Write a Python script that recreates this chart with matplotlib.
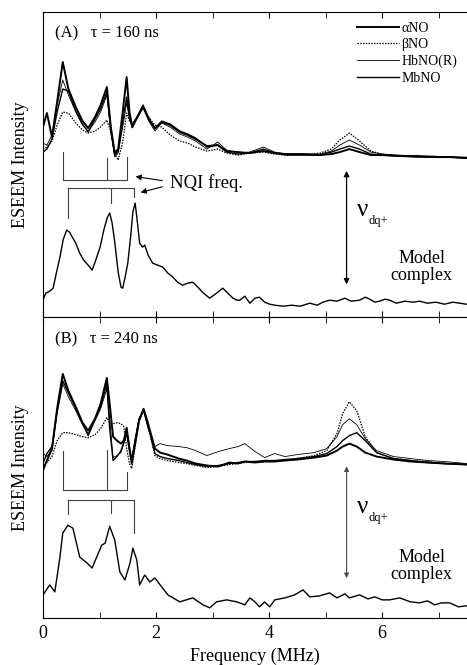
import matplotlib.pyplot as plt

plt.rcParams['font.family'] = 'Liberation Serif'

# ---- panel A (tau = 160 ns) ----
freq_a = [0, 0.07, 0.16, 0.25, 0.35, 0.45, 0.58, 0.70, 0.80, 0.92, 1.02, 1.13, 1.20, 1.27,
          1.33, 1.41, 1.48, 1.53, 1.58, 1.67, 1.77, 1.87, 1.98, 2.10, 2.25, 2.42, 2.56, 2.70,
          2.90, 3.09, 3.25, 3.45, 3.65, 3.90, 4.10, 4.30, 4.60, 4.90, 5.10, 5.25, 5.42, 5.60,
          5.80, 6.00, 6.30, 6.60, 6.90, 7.20, 7.49]
alpha_a = [190, 204, 180, 215, 255, 228, 210, 196, 189, 200, 212, 230, 190, 164,
           168, 205, 240, 205, 190, 200, 210, 198, 189, 195, 192, 185, 182, 178,
           171, 172, 166, 165, 164, 166, 164, 163, 163, 162, 163, 165, 168, 165,
           162, 162, 161, 161, 160, 160, 159]
beta_a = [168, 170, 176, 192, 205, 204, 194, 187, 184, 186, 190, 197, 185, 165,
          157, 175, 204, 196, 194, 200, 209, 200, 192, 190, 182, 176, 174, 170,
          166, 168, 164, 162, 164, 165, 163, 162, 162, 164, 168, 177, 184, 176,
          166, 163, 161, 161, 160, 160, 159]
hb_a = [174, 172, 182, 212, 237, 222, 205, 192, 186, 195, 205, 222, 185, 160,
        164, 190, 214, 198, 189, 200, 211, 196, 186, 194, 190, 183, 180, 176,
        168, 175, 167, 164, 165, 170, 165, 163, 163, 163, 166, 172, 177, 172,
        165, 163, 162, 161, 161, 160, 160]
mb_a = [165, 168, 178, 205, 228, 226, 206, 193, 185, 198, 208, 225, 188, 162,
        166, 195, 220, 200, 191, 201, 212, 199, 188, 196, 193, 186, 183, 179,
        170, 172, 165, 163, 164, 168, 164, 162, 162, 162, 165, 168, 171, 168,
        163, 162, 161, 160, 160, 160, 159]

model_freq_a = [0.00, 0.05, 0.12, 0.18, 0.24, 0.30, 0.36, 0.42, 0.47, 0.52, 0.58, 0.65, 0.72,
                0.80, 0.87, 0.94, 1.01, 1.08, 1.14, 1.18, 1.22, 1.27, 1.33, 1.38, 1.41, 1.46,
                1.50, 1.55, 1.59, 1.63, 1.66, 1.71, 1.76, 1.80, 1.86, 1.94, 2.03, 2.12, 2.21,
                2.30, 2.38, 2.47, 2.56, 2.65, 2.74, 2.84, 2.95, 3.07, 3.18, 3.27, 3.36, 3.43,
                3.48, 3.57, 3.66, 3.75, 3.83, 3.92, 4.01, 4.10, 4.25, 4.40, 4.55, 4.72, 4.85,
                4.95, 5.07, 5.20, 5.34, 5.45, 5.60, 5.70, 5.78, 5.87, 5.95, 6.05, 6.13, 6.25,
                6.40, 6.55, 6.66, 6.80, 6.95, 7.10, 7.25, 7.37, 7.49]
model_a = [17, 24, 26, 29, 45, 60, 78, 87, 85, 80, 74, 64, 57,
           52, 47, 58, 70, 88, 100, 104, 95, 75, 45, 30, 29, 42,
           54, 80, 105, 114, 100, 74, 70, 72, 62, 54, 52, 50, 44,
           40, 35, 32, 34, 35, 30, 24, 19, 24, 29, 24, 19, 17,
           17, 21, 14, 19, 20, 15, 13, 12, 11, 12, 11, 14, 12,
           15, 17, 16, 19, 16, 17, 20, 18, 15, 16, 18, 17, 14,
           16, 15, 16, 14, 15, 13, 15, 14, 13]

# ---- panel B (tau = 240 ns) ----
freq_b = [0, 0.07, 0.16, 0.25, 0.35, 0.45, 0.58, 0.70, 0.80, 0.92, 1.02, 1.13, 1.18, 1.24,
          1.31, 1.38, 1.43, 1.48, 1.53, 1.57, 1.63, 1.70, 1.78, 1.86, 1.98, 2.07, 2.20, 2.40,
          2.54, 2.70, 2.90, 3.10, 3.30, 3.45, 3.57, 3.75, 3.92, 4.10, 4.28, 4.50, 4.80, 5.02,
          5.20, 5.30, 5.42, 5.55, 5.70, 5.90, 6.20, 6.50, 6.80, 7.10, 7.49]
alpha_b = [148, 158, 170, 210, 245, 228, 212, 196, 188, 200, 215, 241, 215, 182,
           178, 175, 178, 191, 170, 155, 175, 198, 210, 195, 170, 166, 164, 160,
           158, 155, 153, 152, 156, 155, 157, 156, 157, 157, 158, 159, 161, 163,
           168, 172, 175, 172, 166, 162, 159, 157, 156, 155, 154]
beta_b = [151, 156, 162, 178, 186, 186, 184, 182, 181, 184, 190, 201, 196, 195,
          196, 195, 192, 170, 155, 150, 172, 198, 208, 192, 163, 160, 158, 156,
          155, 153, 151, 152, 154, 155, 156, 157, 157, 158, 158, 160, 163, 168,
          185, 205, 217, 208, 182, 166, 160, 158, 157, 155, 154]
hb_b = [165, 162, 168, 205, 235, 222, 208, 194, 185, 198, 210, 230, 200, 161,
        163, 166, 175, 190, 172, 160, 180, 200, 208, 190, 172, 175, 173, 172,
        171, 168, 163, 167, 170, 172, 175, 167, 161, 165, 162, 164, 166, 170,
        182, 194, 200, 194, 180, 168, 162, 160, 158, 157, 155]
mb_b = [155, 165, 172, 208, 238, 226, 210, 195, 183, 199, 212, 235, 190, 158,
        162, 168, 176, 185, 168, 158, 178, 200, 209, 193, 165, 162, 160, 158,
        156, 154, 152, 153, 155, 156, 157, 157, 158, 158, 159, 160, 162, 165,
        172, 178, 183, 186, 178, 166, 160, 158, 156, 155, 154]

model_freq_b = [0.00, 0.12, 0.21, 0.30, 0.35, 0.44, 0.53, 0.65, 0.78, 0.87, 0.95, 1.04, 1.10,
                1.18, 1.27, 1.36, 1.45, 1.54, 1.59, 1.66, 1.71, 1.80, 1.89, 1.98, 2.10, 2.21,
                2.42, 2.65, 2.83, 2.95, 3.07, 3.25, 3.43, 3.57, 3.66, 3.75, 3.83, 3.92, 4.01,
                4.10, 4.28, 4.45, 4.60, 4.72, 4.89, 5.07, 5.20, 5.34, 5.42, 5.60, 5.75, 5.87,
                6.00, 6.13, 6.31, 6.50, 6.66, 6.80, 6.93, 7.05, 7.19, 7.35, 7.49]
model_b = [23, 33, 26, 61, 85, 93, 90, 61, 55, 50, 61, 73, 75,
           92, 78, 46, 38, 55, 70, 58, 33, 43, 36, 40, 31, 23,
           16, 20, 13, 10, 16, 18, 16, 13, 20, 16, 11, 16, 11,
           18, 20, 23, 28, 21, 22, 25, 20, 24, 20, 23, 19, 21,
           18, 18, 20, 16, 15, 17, 13, 15, 15, 11, 12]

labels = ['\u03b1NO', '\u03b2NO', 'HbNO(R)', 'MbNO']
nqi_protein = [0.35, 1.13, 1.48]
nqi_model = [0.44, 1.20, 1.61]
nu_dq = 5.37

styles = [dict(ls='-', lw=1.4), dict(ls=(0, (1.2, 1.0)), lw=0.9),
          dict(ls='-', lw=0.6), dict(ls='-', lw=1.0)]


def bracket(ax, freqs, tops, base):
    for f, t in zip(freqs, tops):
        ax.plot([f, f], [base, t], color='0.25', lw=0.8)
    ax.plot([freqs[0], freqs[-1]], [base, base], color='0.25', lw=0.8)


def nu_label(ax, y):
    # big upright nu with a small "dq+" subscript
    ax.text(5.56, y, '\u03bd', fontsize=18, va='center', ha='left')
    ax.text(5.75, y - 11, 'dq+', fontsize=9, va='center', ha='left')


def setup(ax, ytop):
    ax.set_xlim(0, 7.5)
    ax.set_ylim(0, ytop)
    ax.set_xticks([0, 2, 4, 6])
    ax.set_xticks([1, 3, 5, 7], minor=True)
    ax.set_yticks([])
    ax.tick_params(which='both', direction='in', top=True, length=4, labelsize=13, pad=5)
    ax.spines['right'].set_visible(False)
    ax.set_ylabel('ESEEM Intensity', fontsize=13, labelpad=10)


fig = plt.figure(figsize=(4.67, 6.65), dpi=100)
ax_a = fig.add_axes([0.092, 0.523, 0.908, 0.459])
ax_b = fig.add_axes([0.092, 0.071, 0.908, 0.452])

# panel A
setup(ax_a, 305)
ax_a.tick_params(labelbottom=False)
lines = []
for y, lab, st in zip([alpha_a, beta_a, hb_a, mb_a], labels, styles):
    ln, = ax_a.plot(freq_a, y, color='black', label=lab, **st)
    lines.append(ln)
ax_a.plot(model_freq_a, model_a, color='black', lw=1.0)
bracket(ax_a, nqi_protein, [165, 159, 160], 137)
bracket(ax_a, nqi_model, [99, 114, 120], 129)
ax_a.text(2.24, 134, 'NQI freq.', fontsize=13.5, va='center', ha='left')
arw = dict(arrowstyle='-|>', color='black', lw=0.8, mutation_scale=8)
ax_a.annotate('', xy=(1.59, 141), xytext=(2.16, 136), arrowprops=arw)
ax_a.annotate('', xy=(1.68, 124), xytext=(2.16, 131), arrowprops=arw)
ax_a.annotate('', xy=(nu_dq, 149), xytext=(nu_dq, 30),
              arrowprops=dict(arrowstyle='<|-|>', color='black', lw=0.9, mutation_scale=8))
nu_label(ax_a, 107)
ax_a.text(6.70, 50, 'Model\ncomplex', fontsize=13, ha='center', va='center', linespacing=1.0)
ax_a.text(0.21, 284, '(A)   \u03c4 = 160 ns', fontsize=12, va='center', ha='left')
ax_a.legend(handles=lines, loc='upper right', frameon=False, fontsize=10,
            handlelength=3.0, handletextpad=0.2, labelspacing=0.25, borderaxespad=0.3)

# panel B
setup(ax_b, 302)
for y, st in zip([alpha_b, beta_b, hb_b, mb_b], styles):
    ax_b.plot(freq_b, y, color='black', **st)
ax_b.plot(model_freq_b, model_b, color='black', lw=1.0)
bracket(ax_b, nqi_protein, [168, 169, 146], 128)
bracket(ax_b, nqi_model, [104, 105, 85], 118)
ax_b.annotate('', xy=(nu_dq, 155), xytext=(nu_dq, 37),
              arrowprops=dict(arrowstyle='<|-|>', color='0.3', lw=0.8, mutation_scale=7))
nu_label(ax_b, 111)
ax_b.text(6.70, 52, 'Model\ncomplex', fontsize=13, ha='center', va='center', linespacing=1.0)
ax_b.text(0.21, 280, '(B)   \u03c4 = 240 ns', fontsize=12, va='center', ha='left')
ax_b.set_xlabel('Frequency (MHz)', fontsize=13, labelpad=4)

fig.savefig('out.png', dpi=100)
